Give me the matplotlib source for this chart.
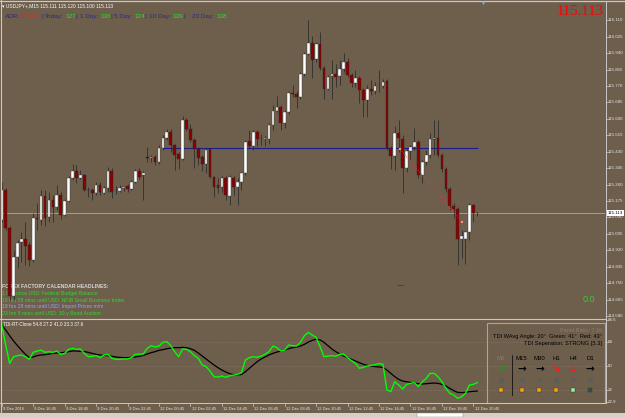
import matplotlib
matplotlib.use('Agg')
import matplotlib.pyplot as plt
import matplotlib.transforms as mtrans
import numpy as np

plt.rcParams['font.family'] = ['Liberation Sans', 'DejaVu Sans']

# USDJPY+ M15 candles (9 Dec 14:45 .. 12 Dec 21:00)
opens = [115.077, 115.232, 115.036, 114.684, 114.886, 114.963, 114.979, 114.948, 114.870, 115.085,
         115.077, 115.201, 115.092, 115.180, 115.144, 115.206, 115.103, 115.175, 115.294, 115.330,
         115.294, 115.310, 115.232, 115.232, 115.217, 115.258, 115.217, 115.242, 115.330, 115.230,
         115.227, 115.242, 115.253, 115.237, 115.274, 115.330, 115.310, 115.403, 115.398, 115.403,
         115.377, 115.449, 115.501, 115.532, 115.465, 115.418, 115.393, 115.594, 115.548, 115.491,
         115.444, 115.403, 115.367, 115.444, 115.299, 115.258, 115.248, 115.294, 115.201, 115.294,
         115.248, 115.274, 115.320, 115.486, 115.460, 115.532, 115.496, 115.496, 115.496, 115.568,
         115.641, 115.661, 115.579, 115.636, 115.734, 115.729, 115.713, 115.832, 115.936, 115.993,
         115.910, 115.987, 115.863, 115.755, 115.822, 115.832, 115.822, 115.858, 115.894, 115.827,
         115.786, 115.812, 115.749, 115.698, 115.755, 115.744, 115.775, 115.770, 115.796, 115.449,
         115.408, 115.527, 115.496, 115.346, 115.434, 115.455, 115.480, 115.310, 115.377, 115.413,
         115.496, 115.501, 115.413, 115.341, 115.237, 115.149, 115.134, 114.979, 114.979, 115.015,
         115.155, 115.111]
highs = [115.274, 115.242, 115.046, 114.922, 114.974, 115.015, 115.067, 114.963, 115.113, 115.165,
         115.232, 115.232, 115.222, 115.206, 115.258, 115.222, 115.186, 115.305, 115.367, 115.361,
         115.336, 115.315, 115.248, 115.242, 115.274, 115.274, 115.253, 115.351, 115.346, 115.253,
         115.258, 115.253, 115.263, 115.284, 115.341, 115.346, 115.330, 115.455, 115.413, 115.413,
         115.465, 115.517, 115.548, 115.548, 115.470, 115.429, 115.615, 115.605, 115.574, 115.501,
         115.455, 115.413, 115.449, 115.449, 115.305, 115.294, 115.305, 115.305, 115.310, 115.305,
         115.294, 115.325, 115.491, 115.542, 115.542, 115.542, 115.522, 115.511, 115.579, 115.672,
         115.718, 115.672, 115.646, 115.744, 115.775, 115.744, 115.843, 115.946, 116.112, 116.029,
         115.998, 116.049, 115.874, 115.827, 115.905, 115.884, 115.905, 115.941, 115.915, 115.837,
         115.853, 115.822, 115.760, 115.775, 115.801, 115.791, 115.853, 115.806, 115.806, 115.460,
         115.563, 115.594, 115.517, 115.449, 115.465, 115.553, 115.491, 115.387, 115.439, 115.527,
         115.594, 115.594, 115.424, 115.351, 115.248, 115.165, 115.144, 115.025, 115.025, 115.165,
         115.160, 115.120]
lows = [115.067, 115.025, 114.663, 114.663, 114.829, 114.860, 114.844, 114.839, 114.860, 115.025,
        115.051, 115.046, 115.067, 115.067, 115.129, 115.082, 115.098, 115.170, 115.284, 115.268,
        115.289, 115.227, 115.196, 115.180, 115.206, 115.206, 115.211, 115.222, 115.191, 115.211,
        115.222, 115.227, 115.222, 115.232, 115.268, 115.289, 115.180, 115.377, 115.377, 115.361,
        115.367, 115.439, 115.491, 115.429, 115.336, 115.341, 115.387, 115.537, 115.480, 115.346,
        115.361, 115.330, 115.320, 115.294, 115.196, 115.217, 115.222, 115.180, 115.155, 115.206,
        115.155, 115.232, 115.310, 115.449, 115.439, 115.460, 115.465, 115.460, 115.470, 115.542,
        115.636, 115.542, 115.553, 115.625, 115.713, 115.656, 115.703, 115.822, 115.930, 115.812,
        115.894, 115.853, 115.703, 115.749, 115.703, 115.765, 115.775, 115.843, 115.817, 115.765,
        115.765, 115.682, 115.610, 115.610, 115.724, 115.729, 115.739, 115.760, 115.439, 115.341,
        115.336, 115.429, 115.217, 115.325, 115.387, 115.439, 115.294, 115.268, 115.361, 115.398,
        115.413, 115.403, 115.325, 115.222, 115.129, 115.087, 114.844, 114.880, 114.849, 114.974,
        115.067, 115.100]
closes = [115.232, 115.036, 114.684, 114.886, 114.958, 114.979, 114.942, 114.870, 115.087, 115.080,
          115.201, 115.087, 115.180, 115.144, 115.206, 115.103, 115.175, 115.294, 115.330, 115.294,
          115.310, 115.232, 115.230, 115.217, 115.258, 115.222, 115.242, 115.330, 115.222, 115.232,
          115.242, 115.245, 115.237, 115.274, 115.330, 115.299, 115.320, 115.400, 115.403, 115.377,
          115.449, 115.501, 115.532, 115.465, 115.413, 115.393, 115.594, 115.548, 115.491, 115.444,
          115.398, 115.367, 115.439, 115.299, 115.248, 115.242, 115.294, 115.206, 115.299, 115.248,
          115.274, 115.320, 115.480, 115.460, 115.532, 115.496, 115.494, 115.501, 115.568, 115.641,
          115.661, 115.579, 115.636, 115.734, 115.729, 115.713, 115.832, 115.936, 115.993, 115.905,
          115.987, 115.863, 115.755, 115.817, 115.832, 115.817, 115.858, 115.894, 115.827, 115.786,
          115.812, 115.749, 115.698, 115.755, 115.744, 115.770, 115.773, 115.791, 115.449, 115.408,
          115.527, 115.501, 115.346, 115.434, 115.455, 115.480, 115.310, 115.377, 115.413, 115.496,
          115.499, 115.413, 115.341, 115.237, 115.149, 115.134, 114.979, 114.994, 115.015, 115.155,
          115.113, 115.113]

# TDI-RT-Clone: green price line and black signal line
tdi_green = [80.8, 65.8, 52.0, 57.0, 57.8, 58.3, 57.0, 55.0, 60.3, 61.3,
             62.0, 60.3, 60.8, 60.3, 61.3, 58.8, 59.5, 62.5, 63.3, 62.5,
             62.8, 59.5, 57.0, 57.3, 57.8, 56.3, 58.3, 58.8, 55.8, 55.0,
             55.0, 55.3, 55.3, 56.3, 58.8, 59.0, 59.0, 63.3, 65.3, 64.3,
             65.0, 67.8, 68.3, 65.3, 60.8, 57.0, 62.8, 62.5, 60.8, 57.8,
             55.8, 50.8, 49.5, 46.2, 42.0, 41.7, 42.5, 41.5, 42.7, 43.2,
             43.7, 45.0, 54.5, 56.3, 57.0, 56.5, 57.5, 58.8, 60.8, 65.0,
             63.8, 61.3, 62.0, 65.8, 65.3, 65.0, 67.8, 72.8, 75.3, 73.3,
             71.6, 64.5, 57.0, 57.5, 57.8, 57.3, 58.8, 59.0, 56.3, 54.0,
             52.0, 48.3, 49.0, 50.0, 50.5, 51.0, 51.8, 51.3, 32.0, 30.7,
             38.2, 35.7, 32.7, 36.2, 37.0, 37.5, 34.5, 38.2, 40.7, 44.5,
             44.5, 42.0, 38.2, 33.2, 29.5, 28.2, 25.7, 26.9, 29.5, 35.7,
             36.2, 37.6]
tdi_black = [80.8, 77.1, 72.8, 68.8, 65.3, 62.0, 58.8, 56.3, 56.8, 57.8,
             58.3, 58.5, 59.0, 59.5, 59.8, 60.0, 60.3, 60.8, 61.3, 61.3,
             61.0, 60.8, 60.3, 59.5, 58.8, 58.3, 58.0, 57.8, 57.3, 56.8,
             56.5, 56.3, 56.3, 56.5, 56.8, 57.3, 58.0, 59.0, 60.0, 60.8,
             61.8, 62.3, 63.0, 63.5, 63.8, 63.8, 64.0, 63.8, 63.0, 61.8,
             59.8, 57.5, 55.3, 53.0, 50.8, 48.8, 47.0, 45.5, 44.2, 43.5,
             43.2, 43.7, 45.7, 48.3, 50.8, 53.3, 55.3, 56.8, 58.3, 59.5,
             60.5, 61.3, 62.0, 63.0, 63.8, 64.3, 65.0, 66.3, 68.0, 69.3,
             70.1, 69.6, 67.8, 65.3, 62.8, 60.8, 59.0, 57.5, 56.3, 55.0,
             53.8, 52.5, 51.3, 50.5, 50.0, 49.5, 49.3, 48.8, 47.0, 44.5,
             42.0, 40.0, 38.7, 38.2, 37.7, 37.2, 36.7, 36.5, 36.7, 37.0,
             37.2, 37.0, 36.2, 35.0, 33.2, 31.5, 30.2, 30.0, 30.2, 30.7,
             31.0, 31.2]
tdi_levels = [68, 50, 32]
tdi_axis_labels = [84.6, 68, 50, 32, 22.9]

price_labels = ['116.110', '116.025', '115.940', '115.855', '115.770', '115.685', '115.600',
                '115.515', '115.430', '115.345', '115.260', '115.175', '115.090', '115.005',
                '114.920', '114.835', '114.750', '114.665', '114.580']
last_price = 115.113
blue_level = 115.449
trend_x = [101.3, 117.2]
trend_y = [115.444, 115.067]

time_labels = ['9 Dec 2016', '9 Dec 16:45', '9 Dec 18:45', '9 Dec 20:45', '9 Dec 22:45',
               '12 Dec 00:45', '12 Dec 02:45', '12 Dec 04:45', '12 Dec 06:45', '12 Dec 08:45',
               '12 Dec 10:45', '12 Dec 12:45', '12 Dec 14:45', '12 Dec 16:45', '12 Dec 18:45',
               '12 Dec 20:45']
time_label_bars = [0, 8, 16, 24, 32, 40, 48, 56, 64, 72, 80, 88, 96, 104, 112, 120]

adr_parts = [('ADR:', 'n'), ('91.7%', 'r'), ('|', 'n'), ('Today:', 'n'), ('127', 'g'), ('|', 'n'),
             ('1 Day:', 'n'), ('136', 'g'), ('|', 'n'), ('5 Day:', 'n'), ('124', 'g'), ('|', 'n'),
             ('10 Day:', 'n'), ('139', 'g'), ('|', 'n'), ('20 Day:', 'n'), ('138', 'g')]
headlines = [('FOREX FACTORY CALENDAR HEADLINES:', '#d6d6d6'),
             ('1 hrs since USD: Federal Budget Balance', '#2fd82f'),
             ('15 hrs 58 mins until USD: NFIB Small Business Index', '#2fd82f'),
             ('18 hrs 28 mins until USD: Import Prices m/m', '#9c9cff'),
             ('23 hrs 8 mins until USD: 30-y Bond Auction', '#2fd82f')]

tf_names = ['M5', 'M15', 'M30', 'H1', 'H4', 'D1']
tf_arrows = ['↗', '→', '→', '↘', '↓', '→']
tf_arrow_colors = ['#1f9a1f', 'black', 'black', '#ff1a1a', '#ff1a1a', 'black']
tf_dots = ['o', 'ring', '.', 'o', 'ring', 'o']
tf_squares = ['#ffa500', '#ffa500', '#ffa500', '#ffa500', '#98f098', '#2f4f4f']

# ---------------------------------------------------------------
W, H = 625, 417
BG = '#6e5e4c'
FRAME = '#c8c8c8'

fig = plt.figure(figsize=(W / 100, H / 100), dpi=100, facecolor=BG)


def box(x0, y0, x1, y1):
    return [x0 / W, 1 - y1 / H, (x1 - x0) / W, (y1 - y0) / H]


bars = np.arange(len(opens))
o = np.array(opens)
c = np.array(closes)
up = c >= o

# main price window
ax = fig.add_axes(box(1, 9, 605, 318))
ax.set_xlim(-0.2, 153.5)
ax.set_ylim(114.570, 116.168)
ax.set_axis_off()

ax.axhline(last_price, color='#a9a9a9', lw=0.6, zorder=2)
ax.hlines(blue_level, 41, 121.3, color='#1c1c90', lw=0.8, zorder=2)
ax.vlines(bars, lows, highs, color='#2a2a2a', lw=0.55, zorder=3)
ax.bar(bars[up], (c - o)[up], bottom=o[up], width=0.68, color='white',
       edgecolor='#3a3a3a', lw=0.3, zorder=4)
ax.bar(bars[~up], (c - o)[~up], bottom=o[~up], width=0.68, color='#8b0000',
       edgecolor='#2a2a2a', lw=0.3, zorder=4)
ax.plot(trend_x, trend_y, color='#ff3030', lw=0.6, ls=(0, (1.2, 1.8)), zorder=5)
ax.plot(trend_x, trend_y, ls='none', marker='s', ms=1.6, mfc='#ffe0a0', mec='#ff2020',
        mew=0.3, zorder=6)
ax.hlines(114.741, 100.6, 102.0, color='#3535a8', lw=0.7, zorder=5)

# indicator window
ind = fig.add_axes(box(1, 319, 605, 403))
ind.set_xlim(-0.2, 153.5)
ind.set_ylim(22.2, 85.35)
ind.set_axis_off()
for lv in tdi_levels:
    ind.axhline(lv, color='#8f806f', lw=0.5, ls=(0, (1, 2)), zorder=1)
ind.plot(bars, tdi_black, color='black', lw=0.9, zorder=3)
ind.plot(bars, tdi_green, color='#00ff00', lw=1.0, zorder=4)

# overlay in pixel coordinates for frame and texts
ov = fig.add_axes([0, 0, 1, 1])
ov.set_xlim(0, W)
ov.set_ylim(H, 0)
ov.set_axis_off()
ov.set_zorder(10)

ov.plot([0.5, 0.5], [0, 413], color=FRAME, lw=0.8)
ov.plot([0, W], [0.6, 0.6], color=FRAME, lw=0.9)
ov.plot([605.5, 605.5], [2, 403], color=FRAME, lw=0.7)
ov.plot([0, 605.5], [318.5, 318.5], color=FRAME, lw=0.8)
ov.plot([0, 605.5], [403, 403], color=FRAME, lw=0.7)
ov.add_patch(plt.Rectangle((0, 413), W, 4, color='#d4d0c8', lw=0))
ov.add_patch(plt.Rectangle((417, 413), 46, 4, facecolor='white', edgecolor='#808080', lw=0.3))
ov.plot([483], [2.8], marker='v', ms=2.6, color='#8aa0c0', mew=0)

# header texts
ov.text(2.5, 6, '▾ USDJPY+,M15 115.111 115.120 115.100 115.113', color='white',
        fontsize=3.5, va='center', ha='left')
adr_x = [5, 21, 41, 45, 65, 75, 80, 100, 110, 114, 134, 144, 149, 172, 183, 192, 216]
adr_col = {'n': '#2a2a80', 'r': '#ff1a1a', 'g': '#22e622'}
for (s, k), x in zip(adr_parts, adr_x):
    ov.text(x, 16, s, color=adr_col[k], fontsize=4.6, va='center', ha='left')
ov.text(604, 11, '115.113', color='#ff0000', fontsize=10.5, va='center', ha='right',
        family=['Liberation Serif', 'DejaVu Serif'])
ov.text(595, 300, '0.0', color='#33cc33', fontsize=6.5, va='center', ha='right')

# forex factory headlines sit under the candles
for k, (s, col) in enumerate(headlines):
    ax.text(2.5, 287 + k * 6.6, s, color=col, fontsize=3.7, va='center', ha='left',
            weight='bold' if k == 0 else 'normal', transform=ov.transData, zorder=1)

# price axis
px_price = mtrans.blended_transform_factory(ov.transData, ax.transData)
for s in price_labels:
    v = float(s)
    ov.plot([605.5, 607.5], [v, v], color=FRAME, lw=0.5, transform=px_price)
    ov.text(608, v, s, color='#e6e6e6', fontsize=3.2, va='center', ha='left',
            transform=px_price)
ov.text(615.5, last_price, '115.113', color='black', fontsize=3.2, va='center', ha='center',
        transform=px_price,
        bbox=dict(boxstyle='square,pad=0.15', fc='white', ec='white', lw=0))

px_ind = mtrans.blended_transform_factory(ov.transData, ind.transData)
for v in tdi_axis_labels:
    ov.plot([605.5, 607.5], [v, v], color=FRAME, lw=0.5, transform=px_ind)
    ov.text(608, v, f'{v:g}', color='#e6e6e6', fontsize=3.2, va='center', ha='left',
            transform=px_ind)

# time axis
bar_px = mtrans.blended_transform_factory(ax.transData, ov.transData)
for s, b in zip(time_labels, time_label_bars):
    ov.plot([b, b], [403, 406], color=FRAME, lw=0.5, transform=bar_px)
    ov.text(b + 0.3, 408.5, s, color='#e6e6e6', fontsize=3.0, va='center', ha='left',
            transform=bar_px)

ov.text(3, 324, 'TDI-RT-Clone 54.8 27.2 41.0 33.3 37.6', color='white', fontsize=3.3,
        va='center', ha='left')

# TDI panel
ov.add_patch(plt.Rectangle((487, 323), 118, 80, fill=False, edgecolor='#b2a493', lw=0.8))
ov.text(602, 330.5, 'Panel Ratio: 7.16', color='#8c7d6d', fontsize=4, va='center', ha='right')
ov.text(602, 336.5, 'TDI WAvg Angle: 20°  Green: 41°  Red: 43°', color='black', fontsize=4.1,
        va='center', ha='right')
ov.text(602, 343, 'TDI Seperation: STRONG [5.3]', color='black', fontsize=4.1,
        va='center', ha='right')
ov.plot([511.7, 511.7], [355, 395], color='black', lw=0.5)
col_x = [500.7, 521.7, 539.3, 556, 573.3, 590]
for k, x in enumerate(col_x):
    ov.text(x, 359, tf_names[k], color='#8c7d6d' if k == 0 else 'black', fontsize=4.3,
            va='center', ha='center')
    ov.text(x, 369, tf_arrows[k], color=tf_arrow_colors[k], fontsize=7.5, va='center',
            ha='center', weight='bold', family=['DejaVu Sans'])
    if tf_dots[k] == 'ring':
        ov.plot([x], [380], marker='o', ms=2.6, mfc='none', mec='#5c5c5c', mew=0.7)
    elif tf_dots[k] == '.':
        ov.plot([x], [380], marker='o', ms=1.0, color='#5c5c5c')
    else:
        ov.plot([x], [380], marker='o', ms=2.6, color='#5c5c5c')
    ov.plot([x], [390], marker='s', ms=3.0, mfc=tf_squares[k], mec='#3a3a3a', mew=0.3)

fig.savefig('out.png', dpi=100, facecolor=BG)
